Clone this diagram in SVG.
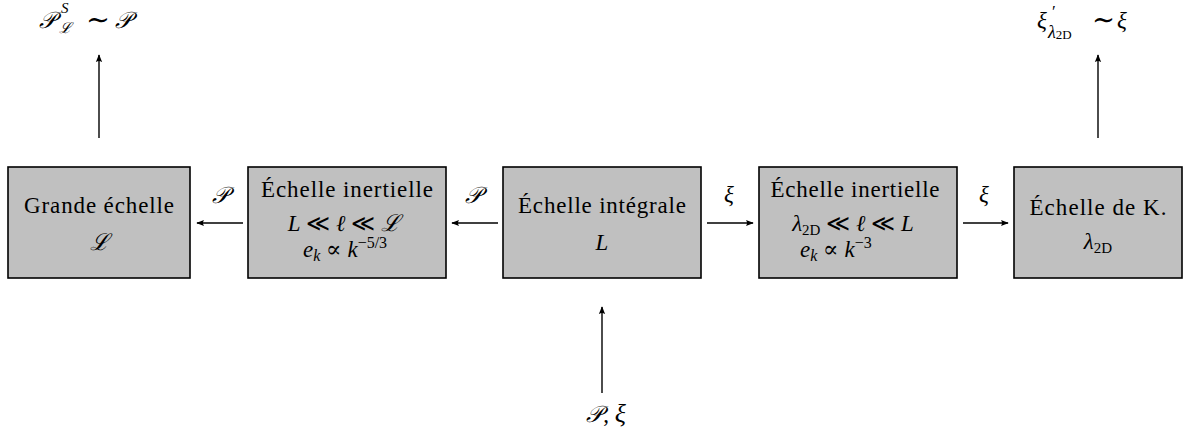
<svg xmlns="http://www.w3.org/2000/svg" width="1184" height="437" viewBox="0 0 1184 437">
<style>
.box{fill:#c0c0c0;stroke:#000;stroke-width:1.6}
.t{font-family:"Liberation Serif","DejaVu Serif",serif;font-size:23px;fill:#000}
.m{font-family:"Liberation Serif","DejaVu Serif",serif;font-size:23px;font-style:italic;fill:#000}
.r{font-style:normal}
.c{text-anchor:middle}
.ln{stroke:#000;stroke-width:1.4;fill:none}
</style>
<defs>
<marker id="ah" viewBox="0 0 10 10" refX="9" refY="5" markerWidth="8" markerHeight="8" markerUnits="userSpaceOnUse" orient="auto">
<path d="M0,1 L10,5 L0,9 Q3,5 0,1 Z" fill="#000"/>
</marker>
</defs>
<rect width="1184" height="437" fill="#fff"/>
<g id="connectors">
<line class="ln" x1="243" y1="223" x2="197" y2="223" marker-end="url(#ah)"/>
<line class="ln" x1="498" y1="223" x2="452" y2="223" marker-end="url(#ah)"/>
<line class="ln" x1="707" y1="223" x2="753" y2="223" marker-end="url(#ah)"/>
<line class="ln" x1="963" y1="223" x2="1008" y2="223" marker-end="url(#ah)"/>
<line class="ln" x1="99" y1="138" x2="99" y2="55" marker-end="url(#ah)"/>
<line class="ln" x1="1098" y1="138" x2="1098" y2="55" marker-end="url(#ah)"/>
<line class="ln" x1="602" y1="393" x2="602" y2="307" marker-end="url(#ah)"/>
<text class="m c" x="220" y="203">𝒫</text>
<text class="m c" x="473" y="203">𝒫</text>
<text class="m c" x="729" y="202" font-size="26">ξ</text>
<text class="m c" x="984" y="202" font-size="26">ξ</text>
</g>
<g id="label-top-left">
<text class="m" x="39" y="28">𝒫<tspan x="61" y="13" font-size="15">S</tspan><tspan x="59" y="33" font-size="15">ℒ</tspan><tspan class="r" x="86" y="29" font-size="28" textLength="24" lengthAdjust="spacingAndGlyphs">∼</tspan><tspan x="115" y="28">𝒫</tspan></text>
</g>
<g id="label-top-right">
<text class="m" x="1037" y="28" font-size="26">ξ<tspan class="r" x="1052" y="17" font-size="17">′</tspan><tspan x="1048" y="38" font-size="18">λ</tspan><tspan class="r" font-size="13" dy="1">2D</tspan><tspan class="r" x="1092" y="29" font-size="28" textLength="23" lengthAdjust="spacingAndGlyphs">∼</tspan><tspan x="1117" y="28">ξ</tspan></text>
</g>
<g id="label-bottom">
<text class="m c" x="606" y="422">𝒫<tspan class="r">, </tspan><tspan font-size="26">ξ</tspan></text>
</g>
<g id="node-grande">
<rect class="box" x="8" y="167" width="182" height="111"/>
<text class="t c" x="99" y="213" textLength="150" lengthAdjust="spacing">Grande échelle</text>
<text class="m c" x="99" y="250">ℒ</text>
</g>
<g id="node-inertielle1">
<rect class="box" x="248" y="167" width="198" height="111"/>
<text class="t c" x="347" y="197" textLength="172" lengthAdjust="spacing">Échelle inertielle</text>
<text class="m c" x="344" y="231">L<tspan class="r"> ≪ </tspan>ℓ<tspan class="r"> ≪ </tspan>ℒ</text>
<text class="m" x="303" y="257">e<tspan font-size="16" dy="4">k</tspan><tspan class="r" dy="-4"> ∝ </tspan>k<tspan class="r" font-size="16" dy="-9">−5/3</tspan></text>
</g>
<g id="node-integrale">
<rect class="box" x="503" y="167" width="198" height="111"/>
<text class="t c" x="602" y="213" textLength="168" lengthAdjust="spacing">Échelle intégrale</text>
<text class="m c" x="602" y="250">L</text>
</g>
<g id="node-inertielle2">
<rect class="box" x="759" y="167" width="198" height="111"/>
<text class="t c" x="855" y="197" textLength="169" lengthAdjust="spacing">Échelle inertielle</text>
<text class="m c" x="853" y="231">λ<tspan class="r" font-size="15" dy="4">2D</tspan><tspan class="r" dy="-4"> ≪ </tspan>ℓ<tspan class="r"> ≪ </tspan>L</text>
<text class="m" x="800" y="257">e<tspan font-size="16" dy="4">k</tspan><tspan class="r" dy="-4"> ∝ </tspan>k<tspan class="r" font-size="16" dy="-9">−3</tspan></text>
</g>
<g id="node-kolmogorov">
<rect class="box" x="1014" y="167" width="168" height="111"/>
<text class="t c" x="1098" y="215" textLength="137" lengthAdjust="spacing">Échelle de K.</text>
<text class="m c" x="1098" y="249">λ<tspan class="r" font-size="15" dy="4">2D</tspan></text>
</g>
</svg>
